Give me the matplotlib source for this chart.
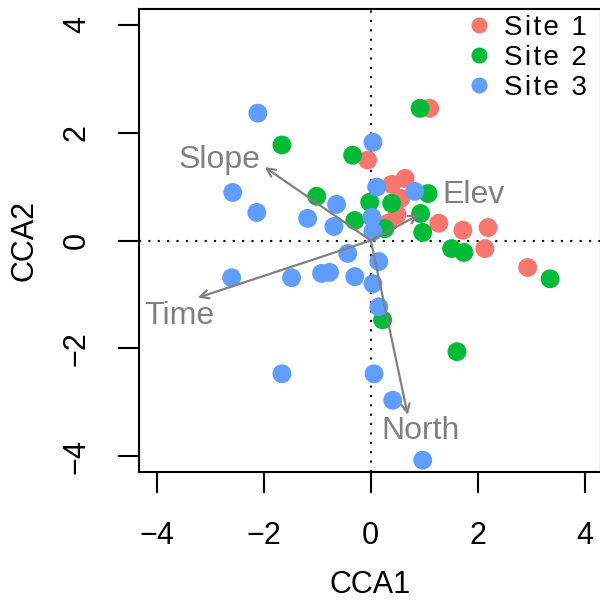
import matplotlib
matplotlib.use("Agg")
import matplotlib.pyplot as plt
from matplotlib.lines import Line2D

plt.rcParams['font.family'] = ['Liberation Sans', 'DejaVu Sans']

# site scores (CCA1, CCA2)
site1_x = [1.10, -0.06, 0.39, 0.64, 0.56, 0.49, 0.32, 1.27, 1.72, 2.19, 2.13, 2.93]
site1_y = [2.45, 1.49, 1.04, 1.15, 0.78, 0.48, 0.32, 0.32, 0.19, 0.24, -0.15, -0.50]

site2_x = [-1.66, -1.01, -0.34, -0.02, 0.39, -0.30, 0.26, 0.92, 1.07, 0.93, 0.97, 1.51, 1.74, 3.35, 0.22, 1.61]
site2_y = [1.77, 0.82, 1.58, 0.71, 0.69, 0.37, 0.22, 2.45, 0.87, 0.50, 0.15, -0.15, -0.22, -0.71, -1.47, -2.06]

site3_x = [-2.11, -2.58, -2.13, -1.18, -0.64, -0.69, 0.04, 0.11, 0.02, 0.04, 0.82, -2.60,
           -1.48, -0.92, -0.77, -0.43, -0.30, 0.15, 0.04, 0.15, -1.66, 0.06, 0.41, 0.97]
site3_y = [2.36, 0.89, 0.52, 0.41, 0.67, 0.26, 1.82, 0.99, 0.43, 0.17, 0.91, -0.69,
           -0.69, -0.61, -0.59, -0.24, -0.67, -0.39, -0.80, -1.23, -2.47, -2.47, -2.96, -4.07]

# environmental vectors
env_names = ["Slope", "Elev", "Time", "North"]
env_x = [-1.98, 0.90, -3.23, 0.69]
env_y = [1.36, 0.48, -1.06, -3.23]
label_x = [-2.82, 1.91, -3.57, 0.93]
label_y = [1.49, 0.84, -1.39, -3.53]

site_names = ["Site 1", "Site 2", "Site 3"]
site_colors = ["#F8766D", "#00BA38", "#619CFF"]

fig = plt.figure(figsize=(6, 6.04), dpi=100)
ax = fig.add_axes([139/600, 132/604, 462/600, 463/604])

ax.axhline(0, color="black", lw=1.5, ls=(0, (1, 3.5)), zorder=1)
ax.axvline(0, color="black", lw=1.5, ls=(0, (1, 3.5)), zorder=1)

for xs, ys, c in zip([site1_x, site2_x, site3_x], [site1_y, site2_y, site3_y], site_colors):
    ax.scatter(xs, ys, s=185, color=c, edgecolors="none", zorder=2)

for name, x, y, lx, ly in zip(env_names, env_x, env_y, label_x, label_y):
    ax.annotate("", xy=(x, y), xytext=(0, 0),
                arrowprops=dict(arrowstyle="->,head_length=0.6,head_width=0.3",
                                color="#808080", lw=1.6, shrinkA=0, shrinkB=0),
                zorder=3)
    ax.text(lx, ly, name, color="#808080", fontsize=23, ha="center", va="center", zorder=4)

ax.set_xlim(-4.33, 4.30)
ax.set_ylim(-4.29, 4.29)
ax.set_xticks([-4, -2, 0, 2, 4])
ax.set_yticks([-4, -2, 0, 2, 4])
ax.set_xticklabels(["\u22124", "\u22122", "0", "2", "4"])
ax.set_yticklabels(["\u22124", "\u22122", "0", "2", "4"], rotation=90, va="center")
ax.tick_params(labelsize=22, length=15, width=1.5)
ax.tick_params(axis="x", pad=20)
ax.tick_params(axis="y", pad=19)
for sp in ax.spines.values():
    sp.set_linewidth(1.5)
ax.set_xlabel("CCA1", fontsize=22, labelpad=14)
ax.set_ylabel("CCA2", fontsize=22, labelpad=16)

hs = "\u200a"
handles = [Line2D([], [], ls="none", marker="o", markersize=10.5, color=c) for c in site_colors]
labels = [hs.join(list(n)) for n in site_names]
ax.legend(handles, labels, loc="upper right", bbox_to_anchor=(1.0, 1.018), frameon=False, fontsize=20,
          handletextpad=0.3, labelspacing=0.15, borderaxespad=0.1, handlelength=1.2)

fig.savefig("out.png", dpi=100)
